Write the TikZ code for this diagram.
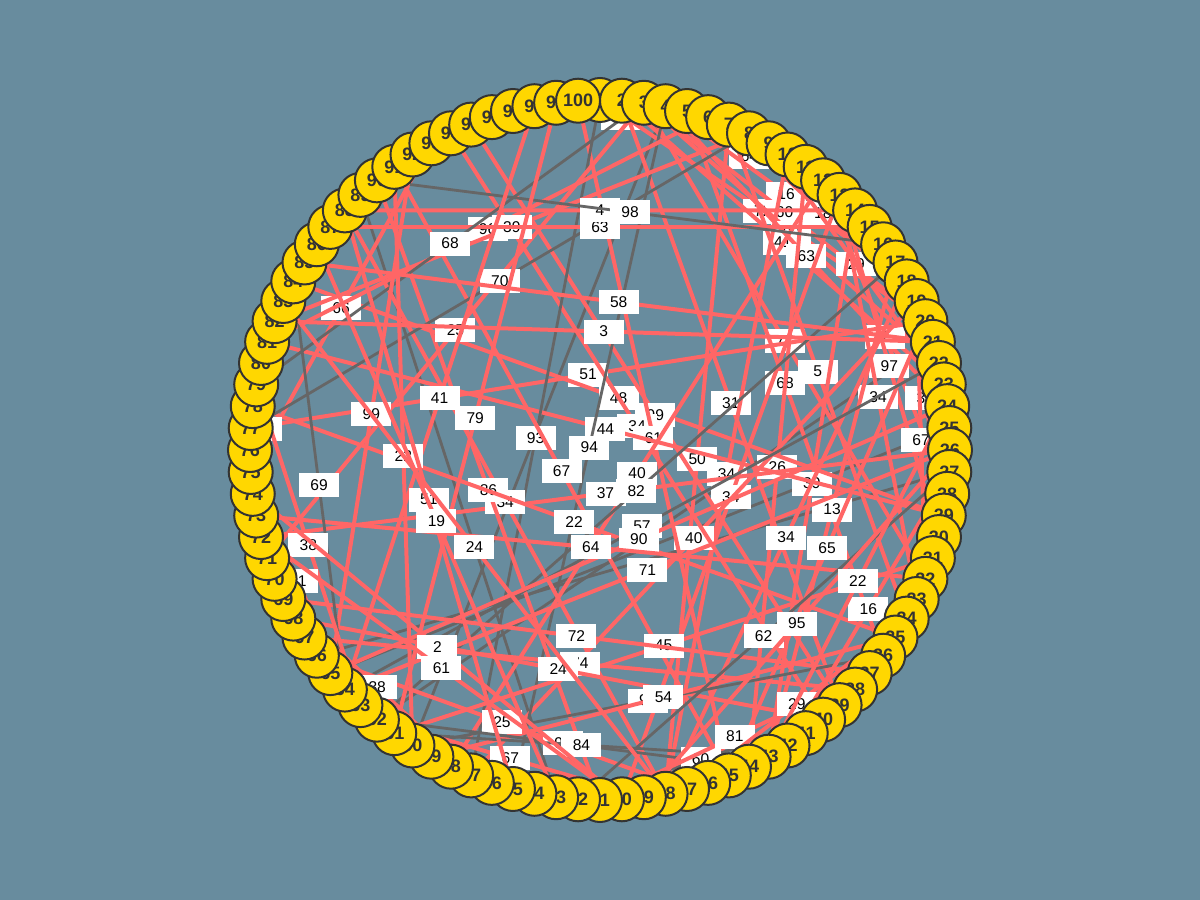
\documentclass[tikz,border=0pt]{standalone}
\usepackage{fontspec}
\setmainfont{Liberation Sans}
\usetikzlibrary{backgrounds}
\definecolor{slate}{RGB}{104,140,158}
\definecolor{gold}{RGB}{255,215,0}
\definecolor{salmon}{RGB}{255,102,102}
\definecolor{ash}{RGB}{102,102,102}
\definecolor{ink}{RGB}{51,51,51}
\tikzset{every picture/.style={line width=1pt},
  pinkedge/.style={draw=salmon,line width=2pt},
  grayedge/.style={draw=ash,line width=1.4pt},
  elabel/.style={fill=white,minimum width=20pt,minimum height=12pt,inner sep=0pt,
    font=\fontsize{7.8}{8}\selectfont,text=black}}

\begin{document}
\begin{tikzpicture}
\useasboundingbox (-300pt,-225pt) rectangle (300pt,225pt);

\begin{scope}[every node/.style={circle,draw=ink,fill=gold,text=ink,minimum size=22pt,
    inner sep=0pt,font=\bfseries\fontsize{9}{10}\selectfont}]
\foreach \k in {1,...,100}
  \node (n\k) at ({90-(\k-1)*3.6}:175pt) {\k};
\end{scope}

\begin{pgfonlayer}{background}
\fill[slate] (-300pt,-225pt) rectangle (300pt,225pt);
\foreach \a/\b in {89/53, 4/60, 65/25, 66/27, 21/62}
  \draw[grayedge] (n\a) -- (n\b);
\foreach \a/\b/\l/\c in {97/7/84/pinkedge, 3/14/64/pinkedge, 4/18/16/pinkedge,
    1/20/72/pinkedge, 3/20/60/pinkedge, 7/19/18/pinkedge, 3/22/90/pinkedge,
    2/23/41/pinkedge, 4/24/63/pinkedge, 9/23/29/pinkedge, 3/32/77/pinkedge,
    12/28/2/pinkedge, 13/30/97/pinkedge, 7/34/5/pinkedge, 13/33/34/pinkedge,
    18/29/35/pinkedge, 19/32/67/pinkedge, 2/39/31/pinkedge, 5/36/68/pinkedge,
    10/48/34/pinkedge, 13/50/34/pinkedge, 11/44/26/pinkedge, 14/43/39/pinkedge,
    17/43/13/pinkedge, 18/48/34/pinkedge, 20/45/65/pinkedge, 7/48/50/pinkedge,
    19/57/40/pinkedge, 77/20/51/pinkedge, 84/29/48/pinkedge, 95/39/99/pinkedge,
    94/40/34/pinkedge, 100/45/61/pinkedge, 81/29/44/pinkedge, 1/57/93/grayedge,
    4/55/94/grayedge, 45/91/67/pinkedge, 12/58/40/pinkedge, 26/72/37/pinkedge,
    17/62/82/grayedge, 48/88/34/pinkedge, 51/90/86/pinkedge, 35/78/22/pinkedge,
    22/64/57/grayedge, 24/65/90/pinkedge, 32/73/64/pinkedge, 26/64/71/pinkedge,
    31/61/45/pinkedge, 37/69/72/pinkedge, 38/67/74/pinkedge, 40/68/24/pinkedge,
    36/60/97/grayedge, 35/59/54/pinkedge, 47/66/25/pinkedge, 44/62/96/grayedge,
    43/61/84/grayedge, 49/62/67/pinkedge, 40/52/60/grayedge, 37/51/81/pinkedge,
    34/47/29/pinkedge, 27/52/62/grayedge, 26/49/95/pinkedge, 27/42/16/pinkedge,
    24/43/22/pinkedge, 75/93/66/pinkedge, 71/3/25/pinkedge, 81/6/96/pinkedge,
    82/8/39/pinkedge, 77/8/70/grayedge, 87/15/63/pinkedge, 88/14/4/pinkedge,
    90/16/98/grayedge, 79/3/68/grayedge, 85/21/58/pinkedge, 82/21/3/pinkedge,
    65/92/99/pinkedge, 64/98/41/pinkedge, 61/99/79/pinkedge, 73/81/7/pinkedge,
    60/91/22/pinkedge, 64/84/69/grayedge, 55/88/51/pinkedge, 53/86/19/pinkedge,
    48/83/24/pinkedge, 63/79/38/pinkedge, 64/75/21/pinkedge, 50/74/2/pinkedge,
    50/72/61/pinkedge, 57/69/38/pinkedge}
  \draw[\c] (n\a) -- node[elabel] {\l} (n\b);
\end{pgfonlayer}
\end{tikzpicture}
\end{document}
